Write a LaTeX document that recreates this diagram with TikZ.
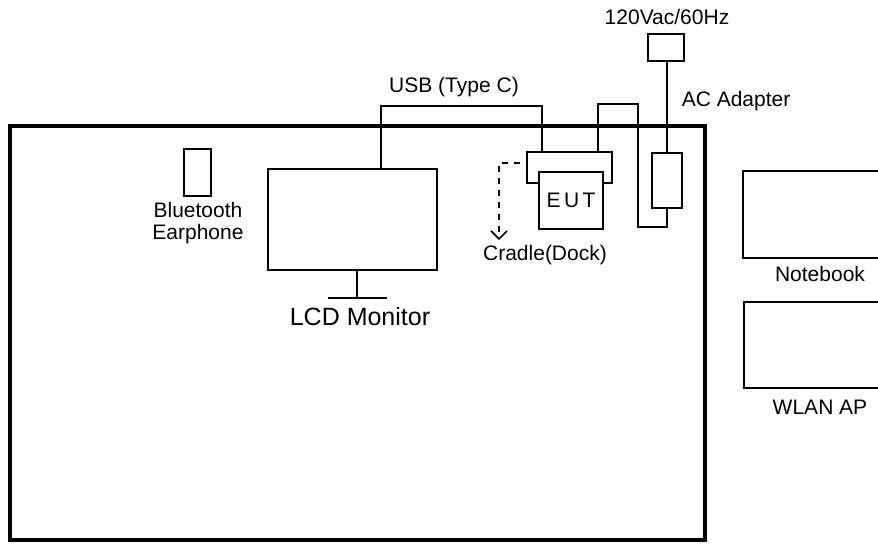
\documentclass[tikz,border=0pt]{standalone}
\usepackage{fontspec}
\setmainfont{Liberation Sans}
\usetikzlibrary{arrows.meta}

\begin{document}
\begin{tikzpicture}[x=0.5pt, y=-0.5pt, line width=0.8pt,
    every node/.style={font=\fontsize{10.5}{11}\selectfont, inner sep=0pt},
    unit/.style 2 args={draw, minimum width=0.5pt*#1, minimum height=0.5pt*#2},
    lbl/.style={align=center}]
  \useasboundingbox (0,0) rectangle (878,543);
  \clip (0,0) rectangle (878,543);
  % table
  \draw[line width=2pt] (10,126) rectangle (705,540);
  % equipment
  \node[unit={36}{27}] (plug) at (666,47.5) {};
  \node[unit={30}{55}] (adapter) at (667,180.5) {};
  \node[unit={85}{31}] (cradle) at (569.5,167.5) {};
  \node[unit={64}{57}, fill=white] (eut) at (571,200.5) {E\,U\,T};
  \node[unit={169}{101}] (monitor) at (352.5,219.5) {};
  \node[unit={27}{47}] (earphone) at (197.5,172.5) {};
  \node[unit={170}{87}, anchor=north west] (notebook) at (742,170) {};
  \node[unit={170}{86}, anchor=north west] (wlan) at (743,301) {};
  % labels
  \node (mains) at (667,17) {120Vac/60Hz};
  \node (usblbl) at (454,87) {USB (Type C)};
  \node[anchor=west] (adlbl) at (681,101) {AC Adapter};
  \node (cradlelbl) at (545,255) {Cradle(Dock)};
  \node[lbl] (btlbl) at (198,223) {Bluetooth\\Earphone};
  \node[font=\fontsize{12.5}{14}\selectfont] (lcdlbl) at (360,317) {LCD Monitor};
  \node (nblbl) at (820,274) {Notebook};
  \node (wlanlbl) at (820,407) {WLAN AP};
  % monitor stand
  \coordinate (stand) at (357,298);
  \draw (stand |- monitor.south) -- (stand);
  \draw (328,298) -- (387,298);
  % cables
  \coordinate (usbL) at (381,106);
  \coordinate (usbR) at (542,106);
  \draw (usbL |- monitor.north) -- (usbL) -- (usbR) -- (usbR |- cradle.north);
  \draw (adapter.north) -- (adapter.north |- plug.south);
  \coordinate (pwrA) at (638,227);
  \coordinate (pwrB) at (598,104);
  \draw (adapter.south) -- (adapter.south |- pwrA) -- (pwrA) -- (pwrA |- pwrB) -- (pwrB) -- (pwrB |- cradle.north);
  % dock hint
  \coordinate (dockS) at (520,163);
  \coordinate (dockE) at (499,240);
  \draw[dashed, -{Straight Barb[length=4pt]}] (dockS) -- (dockS -| dockE) -- (dockE);
\end{tikzpicture}
\end{document}
